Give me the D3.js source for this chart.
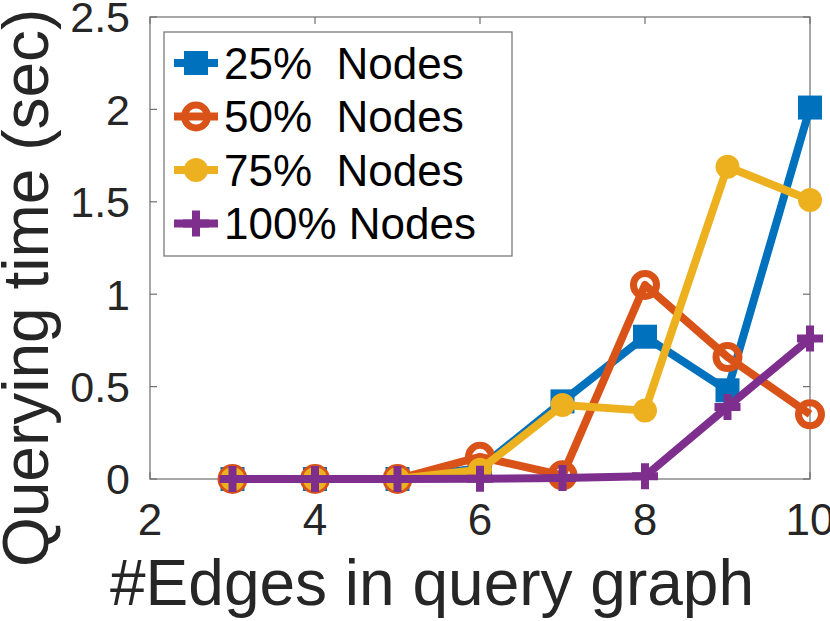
<!DOCTYPE html>
<html lang="en">
<head>
  <meta charset="utf-8">
  <title>Querying time vs #Edges</title>
  <script src="https://cdn.jsdelivr.net/npm/d3@7/dist/d3.min.js"></script>
  <style>
    body { margin: 0; background: white; }
    svg { font-family: "Liberation Sans", Arial, sans-serif; }
    .legend text { white-space: pre; }
  </style>
</head>
<body>
  <svg id="chart" width="830" height="621"></svg>
  <script>
    // data
    const edges    = [3, 4, 5, 6, 7, 8, 9, 10];
    const nodes25  = [0, 0, 0, 0.06, 0.42, 0.77, 0.48, 2.01];
    const nodes50  = [0, 0, 0, 0.12, 0.02, 1.05, 0.66, 0.35];
    const nodes75  = [0, 0, 0, 0.05, 0.40, 0.37, 1.69, 1.51];
    const nodes100 = [0, 0, 0, 0.002, 0.005, 0.015, 0.39, 0.76];
    const seriesNames = ["25%  Nodes", "50%  Nodes", "75%  Nodes", "100% Nodes"];
    const xTicks = [2, 4, 6, 8, 10];
    const yTicks = [0, 0.5, 1, 1.5, 2, 2.5];

    const series = [
      { name: seriesNames[0], values: nodes25,  color: "#0072BD", marker: "square" },
      { name: seriesNames[1], values: nodes50,  color: "#D95319", marker: "circle" },
      { name: seriesNames[2], values: nodes75,  color: "#EDB120", marker: "dot" },
      { name: seriesNames[3], values: nodes100, color: "#7E2F8E", marker: "plus" }
    ];

    const svg = d3.select("#chart");
    const mLeft = 150, mRight = 810, mTop = 17, mBottom = 479;

    const x = d3.scaleLinear().domain([2, 10]).range([mLeft, mRight]);
    const y = d3.scaleLinear().domain([0, 2.5]).range([mBottom, mTop]);

    const axisColor = "#6e6e6e";
    const tickLen = 7;

    // box
    svg.append("rect")
      .attr("x", mLeft).attr("y", mTop)
      .attr("width", mRight - mLeft).attr("height", mBottom - mTop)
      .attr("fill", "none").attr("stroke", axisColor).attr("stroke-width", 1.2);

    // inward ticks on all four sides
    const g = svg.append("g").attr("stroke", axisColor).attr("stroke-width", 1.2);
    xTicks.forEach(t => {
      g.append("line").attr("x1", x(t)).attr("x2", x(t)).attr("y1", mBottom).attr("y2", mBottom - tickLen);
      g.append("line").attr("x1", x(t)).attr("x2", x(t)).attr("y1", mTop).attr("y2", mTop + tickLen);
    });
    yTicks.forEach(t => {
      g.append("line").attr("y1", y(t)).attr("y2", y(t)).attr("x1", mLeft).attr("x2", mLeft + tickLen);
      g.append("line").attr("y1", y(t)).attr("y2", y(t)).attr("x1", mRight).attr("x2", mRight - tickLen);
    });

    // tick labels
    svg.append("g").selectAll("text").data(xTicks).join("text")
      .attr("x", d => x(d)).attr("y", 535)
      .attr("text-anchor", "middle")
      .attr("font-size", 44).attr("fill", "#262626")
      .text(d => d);

    svg.append("g").selectAll("text").data(yTicks).join("text")
      .attr("x", 130).attr("y", d => y(d))
      .attr("dy", "0.36em")
      .attr("text-anchor", "end")
      .attr("font-size", 43).attr("fill", "#262626")
      .text(d => d);

    // axis titles
    svg.append("text")
      .attr("x", 110).attr("y", 605)
      .attr("font-size", 64).attr("fill", "#262626")
      .text("#Edges in query graph");

    svg.append("text")
      .attr("transform", "translate(48,567) rotate(-90)")
      .attr("font-size", 64).attr("fill", "#262626")
      .text("Querying time (sec)");

    // markers
    function drawMarker(sel, type, color, cx, cy) {
      if (type === "square") {
        sel.append("rect").attr("x", cx - 11).attr("y", cy - 11)
          .attr("width", 22).attr("height", 22)
          .attr("fill", color).attr("stroke", color).attr("stroke-width", 2);
      } else if (type === "circle") {
        sel.append("circle").attr("cx", cx).attr("cy", cy).attr("r", 11.5)
          .attr("fill", "none").attr("stroke", color).attr("stroke-width", 7);
      } else if (type === "dot") {
        sel.append("circle").attr("cx", cx).attr("cy", cy).attr("r", 12)
          .attr("fill", color);
      } else if (type === "plus") {
        sel.append("path")
          .attr("d", `M${cx - 13},${cy}H${cx + 13}M${cx},${cy - 13}V${cy + 13}`)
          .attr("stroke", color).attr("stroke-width", 8).attr("fill", "none");
      }
    }

    const line = d3.line().x(d => x(d[0])).y(d => y(d[1]));

    series.forEach(s => {
      const pts = edges.map((e, i) => [e, s.values[i]]);
      const sg = svg.append("g");
      sg.append("path").datum(pts)
        .attr("d", line)
        .attr("fill", "none").attr("stroke", s.color)
        .attr("stroke-width", 8).attr("stroke-linejoin", "round");
      pts.forEach(p => drawMarker(sg, s.marker, s.color, x(p[0]), y(p[1])));
    });

    // legend
    const lg = svg.append("g").attr("class", "legend");
    lg.append("rect")
      .attr("x", 164).attr("y", 32).attr("width", 348).attr("height", 224)
      .attr("fill", "white").attr("stroke", axisColor).attr("stroke-width", 1.2);

    series.forEach((s, i) => {
      const cy = 63 + i * 53.5;
      lg.append("line").attr("x1", 174).attr("x2", 218).attr("y1", cy).attr("y2", cy)
        .attr("stroke", s.color).attr("stroke-width", 8);
      drawMarker(lg, s.marker, s.color, 196, cy);
      lg.append("text")
        .attr("x", 224).attr("y", cy).attr("dy", "0.36em")
        .attr("font-size", 44).attr("fill", "black")
        .text(s.name);
    });
  </script>
</body>
</html>
